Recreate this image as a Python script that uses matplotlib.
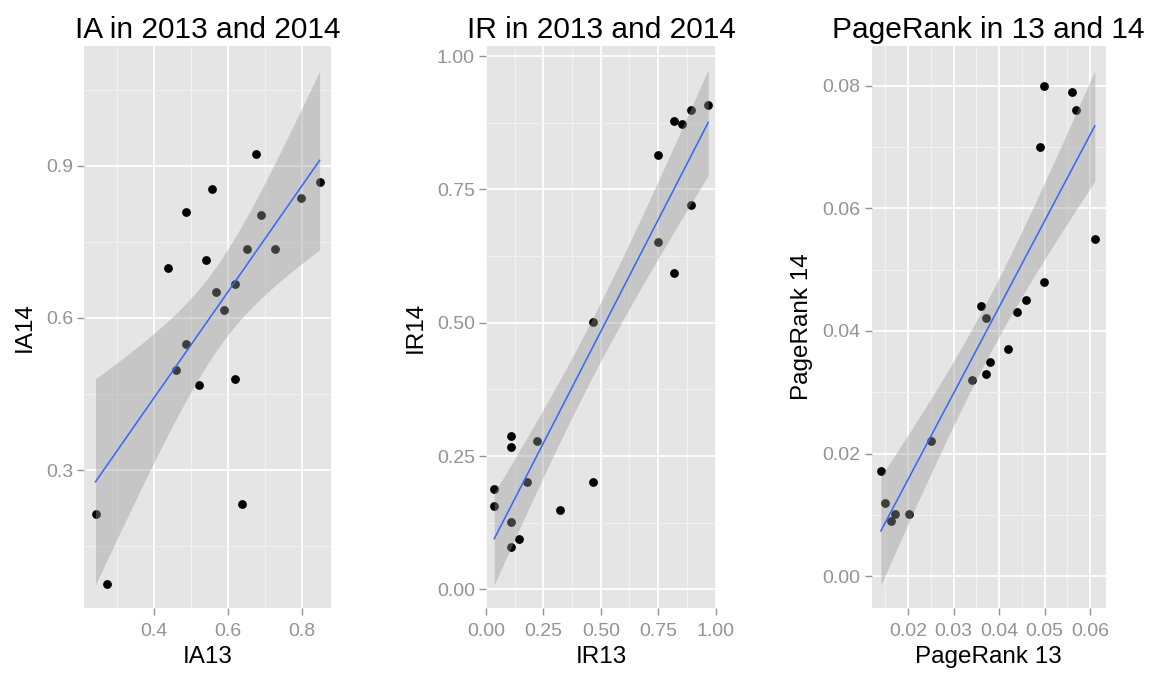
import numpy as np
import matplotlib
matplotlib.use("Agg")
import matplotlib.pyplot as plt
from matplotlib.ticker import FixedLocator

plt.rcParams["font.family"] = ["Liberation Sans", "DejaVu Sans"]

# IA scores, 2013 vs 2014
ia13 = [0.674, 0.555, 0.485, 0.847, 0.798, 0.688, 0.651, 0.726, 0.436, 0.541,
        0.618, 0.566, 0.589, 0.487, 0.459, 0.521, 0.618, 0.636, 0.241, 0.272]
ia14 = [0.924, 0.855, 0.809, 0.868, 0.836, 0.803, 0.735, 0.735, 0.699, 0.714,
        0.666, 0.652, 0.616, 0.548, 0.498, 0.467, 0.479, 0.234, 0.213, 0.075]

# IR scores, 2013 vs 2014
ir13 = [0.968, 0.893, 0.818, 0.852, 0.748, 0.893, 0.748, 0.820, 0.464, 0.109,
        0.109, 0.221, 0.036, 0.178, 0.464, 0.036, 0.323, 0.109, 0.143, 0.109]
ir14 = [0.908, 0.899, 0.878, 0.872, 0.815, 0.721, 0.652, 0.593, 0.502, 0.287,
        0.267, 0.279, 0.189, 0.201, 0.201, 0.157, 0.148, 0.126, 0.094, 0.080]

# PageRank, 2013 vs 2014
pr13 = [0.0499, 0.0559, 0.0569, 0.0490, 0.0610, 0.0499, 0.0459, 0.0360, 0.0439, 0.0370,
        0.0420, 0.0380, 0.0371, 0.0340, 0.0250, 0.0140, 0.0150, 0.0171, 0.0162, 0.0201]
pr14 = [0.0800, 0.0790, 0.0760, 0.0700, 0.0550, 0.0480, 0.0450, 0.0441, 0.0431, 0.0421,
        0.0371, 0.0350, 0.0330, 0.0320, 0.0220, 0.0171, 0.0120, 0.0101, 0.0090, 0.0101]

T975_DF18 = 2.101  # t quantile for the 95% band, n = 20

BG = "#E5E5E5"
TICK_GREY = "#939393"


def minor_between(major, lo, hi):
    step = major[1] - major[0]
    cand = np.arange(major[0] - step / 2, major[-1] + step, step)
    return [c for c in cand if lo <= c <= hi]


def lm_panel(ax, x, y, title, xlabel, ylabel, xticks, yticks, xlim, ylim, fmt):
    x = np.asarray(x)
    y = np.asarray(y)
    n = len(x)

    ax.set_facecolor(BG)
    for s in ax.spines.values():
        s.set_visible(False)

    ax.set_xlim(*xlim)
    ax.set_ylim(*ylim)
    ax.xaxis.set_major_locator(FixedLocator(xticks))
    ax.yaxis.set_major_locator(FixedLocator(yticks))
    ax.xaxis.set_minor_locator(FixedLocator(minor_between(xticks, *xlim)))
    ax.yaxis.set_minor_locator(FixedLocator(minor_between(yticks, *ylim)))
    ax.set_xticklabels([fmt % v for v in xticks])
    ax.set_yticklabels([fmt % v for v in yticks])

    ax.grid(True, which="major", color="white", linewidth=1.3)
    ax.grid(True, which="minor", color="#F2F2F2", linewidth=0.7)
    ax.set_axisbelow(True)
    ax.tick_params(which="major", length=5, width=1, color=TICK_GREY,
                   labelcolor=TICK_GREY, labelsize=14)
    ax.tick_params(axis="x", which="major", pad=6)
    ax.tick_params(axis="y", which="major", pad=3)
    ax.tick_params(which="minor", length=0)

    ax.scatter(x, y, s=40, color="black", zorder=3, linewidths=0)

    # linear fit with 95% confidence band
    slope, icpt = np.polyfit(x, y, 1)
    xs = np.linspace(x.min(), x.max(), 80)
    fit = icpt + slope * xs
    resid = y - (icpt + slope * x)
    s = np.sqrt(np.sum(resid ** 2) / (n - 2))
    se = s * np.sqrt(1.0 / n + (xs - x.mean()) ** 2 / np.sum((x - x.mean()) ** 2))
    ax.fill_between(xs, fit - T975_DF18 * se, fit + T975_DF18 * se,
                    color="#999999", alpha=0.4, linewidth=0, zorder=4)
    ax.plot(xs, fit, color="#3366FF", linewidth=1.1, zorder=5)

    ax.set_title(title, fontsize=21.5, color="black", pad=6)
    ax.set_xlabel(xlabel, fontsize=17.5, labelpad=4)
    ax.set_ylabel(ylabel, fontsize=17.5, labelpad=7)


fig = plt.figure(figsize=(11.56, 6.73), dpi=100)
fig.patch.set_facecolor("white")

bottom, height = 0.0966, 0.835
ax1 = fig.add_axes([0.0727, bottom, 0.2137, height])
ax2 = fig.add_axes([0.4204, bottom, 0.1996, height])
ax3 = fig.add_axes([0.7541, bottom, 0.2024, height])

lm_panel(ax1, ia13, ia14, "IA in 2013 and 2014", "IA13", "IA14",
         [0.4, 0.6, 0.8], [0.3, 0.6, 0.9], (0.21, 0.878), (0.028, 1.136), "%.1f")
lm_panel(ax2, ir13, ir14, "IR in 2013 and 2014", "IR13", "IR14",
         [0.0, 0.25, 0.5, 0.75, 1.0], [0.0, 0.25, 0.5, 0.75, 1.0],
         (0.0, 1.005), (-0.035, 1.019), "%.2f")
lm_panel(ax3, pr13, pr14, "PageRank in 13 and 14", "PageRank 13", "PageRank 14",
         [0.02, 0.03, 0.04, 0.05, 0.06], [0.0, 0.02, 0.04, 0.06, 0.08],
         (0.012, 0.0634), (-0.0052, 0.0865), "%.2f")

fig.savefig("out.png", dpi=100)
plt.close(fig)
